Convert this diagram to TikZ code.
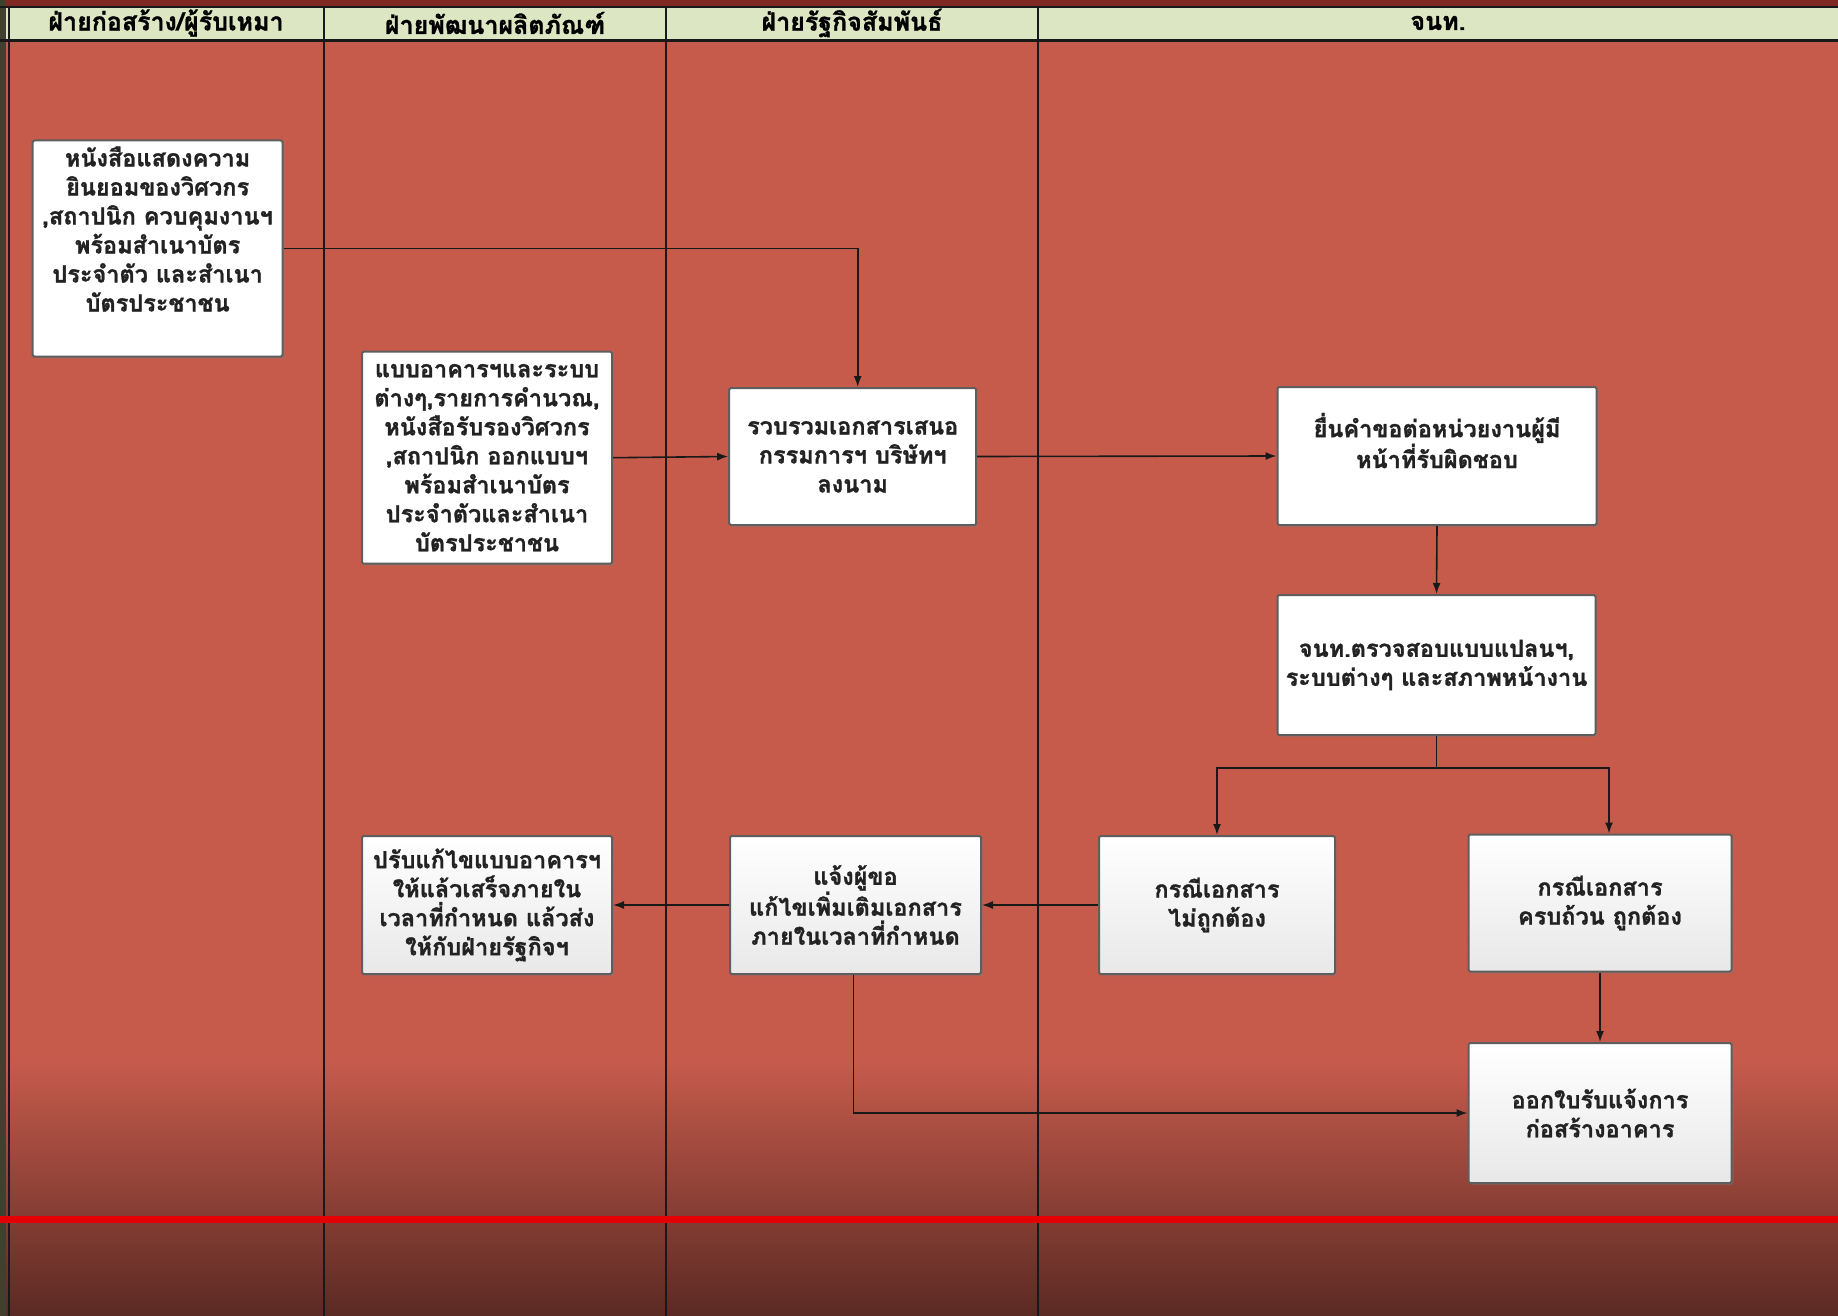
\documentclass[tikz,border=0pt]{standalone}
\usepackage{fontspec}
\newfontfamily\thai[Script=Thai, BoldFeatures={FakeBold=1.2}]{Loma}
\usetikzlibrary{arrows.meta,shadows}
\definecolor{bgred}{HTML}{C65B4C}
\definecolor{bgdark}{HTML}{5B2A23}
\definecolor{hdrgreen}{HTML}{DCE6C2}
\definecolor{topstrip}{HTML}{7E2A22}
\definecolor{boxline}{HTML}{5E5E5E}
\definecolor{txt}{HTML}{222222}
\begin{document}
\begin{tikzpicture}[x=1pt,y=-1pt,
  box/.style={draw=boxline, line width=2pt, rounded corners=1.5pt, fill=white,
    align=center, text=txt, inner sep=3pt,
    font=\thai\bfseries\fontsize{23.5}{29}\selectfont,
    drop shadow={shadow xshift=2pt, shadow yshift=-2pt, opacity=.35}},
  greybox/.style={box, top color=white, bottom color=black!9},
  hdr/.style={text=black, font=\thai\bfseries\fontsize{25}{28}\selectfont},
  lane/.style={line width=2pt, draw=black!90},
  conn/.style={line width=1.6pt, draw=black!90, -{Latex[length=11pt,width=8pt]}},
  plain/.style={line width=1.6pt, draw=black!90}]
\useasboundingbox (0,0) rectangle (1838,1316);
% background
\fill[bgred] (0,0) rectangle (1838,1316);
\shade[top color=bgred, bottom color=bgdark] (0,1060) rectangle (1838,1316);
\fill[topstrip] (0,0) rectangle (1838,7);
\fill[hdrgreen] (0,7) rectangle (1838,40);
\fill[black!70!olive] (0,0) rectangle (6,1316);
\draw[lane] (0,7) -- (1838,7);
\draw[lane, line width=3pt] (0,41) -- (1838,41);
\draw[lane] (9,7) -- (9,1316);
% lanes
\draw[lane] (323.5,7) -- (323.5,1316);
\draw[lane] (666,7) -- (666,1316);
\draw[lane] (1038,7) -- (1038,1316);
% headers
\node[hdr] (h1) at (166,23) {ฝ่ายก่อสร้าง/ผู้รับเหมา};
\node[hdr] (h2) at (495,23) {ฝ่ายพัฒนาผลิตภัณฑ์};
\node[hdr] (h3) at (852,23) {ฝ่ายรัฐกิจสัมพันธ์};
\node[hdr] (h4) at (1438,23) {จนท.};
% boxes
\node[box, minimum width=250pt, minimum height=216pt] (b1) at (157.6,248.5)
  {หนังสือแสดงความ\\ยินยอมของวิศวกร\\,สถาปนิก ควบคุมงานฯ\\พร้อมสำเนาบัตร\\ประจำตัว และสำเนา\\บัตรประชาชน\\[10pt]};
\node[box, minimum width=250pt, minimum height=212pt] (b2) at (487,457.7)
  {แบบอาคารฯและระบบ\\ต่างๆ,รายการคำนวณ,\\หนังสือรับรองวิศวกร\\,สถาปนิก ออกแบบฯ\\พร้อมสำเนาบัตร\\ประจำตัวและสำเนา\\บัตรประชาชน};
\node[box, minimum width=247pt, minimum height=137pt] (b3) at (852.7,456.5)
  {รวบรวมเอกสารเสนอ\\กรรมการฯ บริษัทฯ\\ลงนาม};
\node[box, minimum width=319pt, minimum height=138pt] (b4) at (1437,456)
  {ยื่นคำขอต่อหน่วยงานผู้มี\\หน้าที่รับผิดชอบ\\[2pt]};
\node[box, minimum width=318pt, minimum height=140pt] (b5) at (1436.5,665)
  {จนท.ตรวจสอบแบบแปลนฯ,\\ระบบต่างๆ และสภาพหน้างาน};
\node[greybox, minimum width=250pt, minimum height=138pt] (b6) at (487,905)
  {ปรับแก้ไขแบบอาคารฯ\\ให้แล้วเสร็จภายใน\\เวลาที่กำหนด แล้วส่ง\\ให้กับฝ่ายรัฐกิจฯ};
\node[greybox, minimum width=251pt, minimum height=138pt] (b7) at (855.5,905)
  {แจ้งผู้ขอ\\แก้ไขเพิ่มเติมเอกสาร\\ภายในเวลาที่กำหนด};
\node[greybox, minimum width=236pt, minimum height=138pt] (b8) at (1217,905)
  {กรณีเอกสาร\\ไม่ถูกต้อง};
\node[greybox, minimum width=263pt, minimum height=137pt] (b9) at (1600,903)
  {กรณีเอกสาร\\ครบถ้วน ถูกต้อง};
\node[greybox, minimum width=263pt, minimum height=140pt] (b10) at (1600,1113)
  {ออกใบรับแจ้งการ\\ก่อสร้างอาคาร};
% connectors
\coordinate (split) at (1436.5,768);
\draw[conn] (b1.east) -| ([xshift=5pt]b3.north);
\draw[conn] (b2.east) -- (b3.west);
\draw[conn] (b3.east) -- (b4.west);
\draw[conn] (b4.south) -- (b5.north);
\draw[plain] (b5.south) -- (split);
\draw[conn] (split) -| (b8.north);
\draw[conn] (split) -| ([xshift=9pt]b9.north);
\draw[conn] (b8.west) -- (b7.east);
\draw[conn] (b7.west) -- (b6.east);
\draw[conn] ([xshift=-2pt]b7.south) |- (b10.west);
\draw[conn] (b9.south) -- (b10.north);
% progress bar
\fill[red!90!black] (0,1215.5) rectangle (1838,1222.5);
\end{tikzpicture}
\end{document}
